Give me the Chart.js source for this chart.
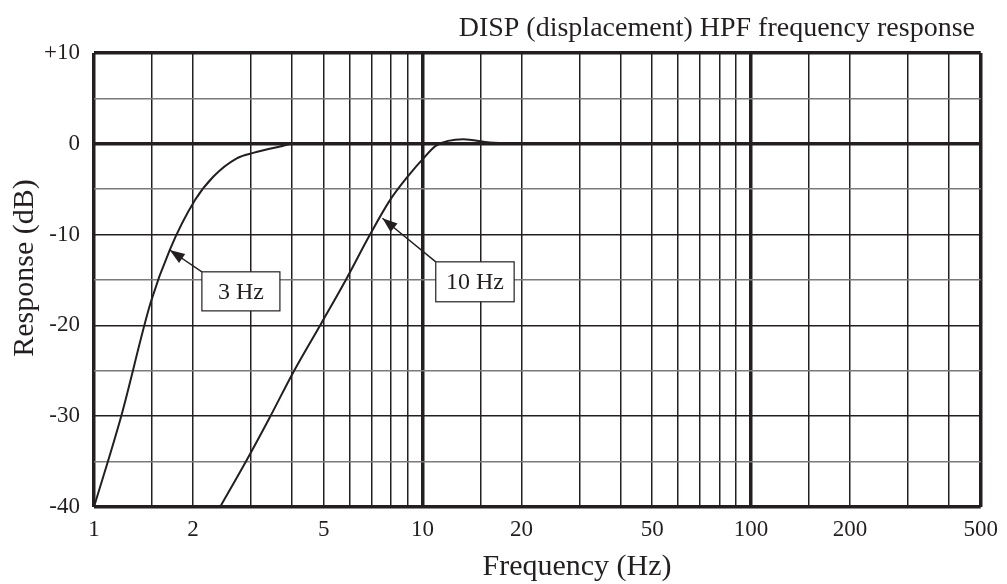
<!DOCTYPE html>
<html>
<head>
<meta charset="utf-8">
<script src="https://cdn.jsdelivr.net/npm/chart.js@4"></script>
<style>
  html, body { margin: 0; padding: 0; background: #fff; }
  #wrap { width: 1007px; height: 584px; position: relative; }
</style>
</head>
<body>
<div id="wrap"><canvas id="hpf"></canvas></div>
<script>
// DISP high-pass responses (Hz / dB)
const freq3Hz = [1, 1.21, 1.49, 1.70, 2.03, 2.31, 2.72, 3.05, 3.68, 4.04, 20];
const resp3Hz = [-40, -30, -17.4, -11.7, -6.2, -3.6, -1.6, -1.0, -0.3, 0, 0];

const freq10Hz = [2.42, 2.92, 3.42, 4.05, 4.93, 5.88, 6.92, 7.96, 9.06, 10.06, 11.0, 13.3, 16.0, 20.5];
const resp10Hz = [-40, -34.8, -30.2, -25.1, -19.7, -14.8, -10.0, -6.2, -3.5, -1.6, -0.2, 0.5, 0.15, 0];

// axis ticks
const freqGrid = [1, 1.5, 2, 3, 4, 5, 6, 7, 8, 9, 10, 15, 20, 30, 40, 50, 60, 70, 80, 90, 100, 150, 200, 300, 400, 500];
const freqLabels = [1, 2, 5, 10, 20, 50, 100, 200, 500];
const freqHeavy = [1, 10, 100, 500];
const dbHeavy = [10, 0, -40];

// callouts: label, arrow tip (Hz, dB), box corners (Hz, dB)
const calloutText = ['3 Hz', '10 Hz'];
const calloutTip = [[1.70, -11.7], [7.55, -8.2]];
const calloutBox = [[2.13, -14.1, 3.68, -18.4], [10.97, -13.0, 19.0, -17.4]];

const INK = '#231f20';
const SERIF = '"Liberation Serif", "Times New Roman", serif';

const toPoints = (xs, ys) => xs.map((x, i) => ({ x: x, y: ys[i] }));

const textPlugin = {
    id: 'hpfText',
    afterDatasetsDraw(chart) {
        const ctx = chart.ctx;
        const xs = chart.scales.x;
        const ys = chart.scales.y;
        ctx.save();

        // callouts
        calloutText.forEach((label, i) => {
            const tx = xs.getPixelForValue(calloutTip[i][0]);
            const ty = ys.getPixelForValue(calloutTip[i][1]);
            const bx0 = xs.getPixelForValue(calloutBox[i][0]);
            const by0 = ys.getPixelForValue(calloutBox[i][1]);
            const bx1 = xs.getPixelForValue(calloutBox[i][2]);
            const by1 = ys.getPixelForValue(calloutBox[i][3]);

            ctx.strokeStyle = INK;
            ctx.fillStyle = INK;
            ctx.lineWidth = 1.4;
            ctx.beginPath();
            ctx.moveTo(bx0, by0);
            ctx.lineTo(tx, ty);
            ctx.stroke();

            const ang = Math.atan2(ty - by0, tx - bx0);
            const len = 15, half = 5.5;
            ctx.beginPath();
            ctx.moveTo(tx, ty);
            ctx.lineTo(tx - len * Math.cos(ang) + half * Math.sin(ang), ty - len * Math.sin(ang) - half * Math.cos(ang));
            ctx.lineTo(tx - len * Math.cos(ang) - half * Math.sin(ang), ty - len * Math.sin(ang) + half * Math.cos(ang));
            ctx.closePath();
            ctx.fill();

            ctx.fillStyle = '#fff';
            ctx.fillRect(bx0, by0, bx1 - bx0, by1 - by0);
            ctx.lineWidth = 1.2;
            ctx.strokeRect(bx0, by0, bx1 - bx0, by1 - by0);
            ctx.fillStyle = INK;
            ctx.font = '24px ' + SERIF;
            ctx.textAlign = 'center';
            ctx.textBaseline = 'middle';
            ctx.fillText(label, (bx0 + bx1) / 2, (by0 + by1) / 2 + 1);
        });

        // titles
        ctx.fillStyle = INK;
        ctx.font = '28px ' + SERIF;
        ctx.textAlign = 'right';
        ctx.textBaseline = 'alphabetic';
        ctx.fillText('DISP (displacement) HPF frequency response', 975, 36);

        ctx.font = '30px ' + SERIF;
        ctx.textAlign = 'center';
        ctx.fillText('Frequency (Hz)', 577, 575);

        ctx.translate(25, 268);
        ctx.rotate(-Math.PI / 2);
        ctx.textBaseline = 'middle';
        ctx.fillText('Response (dB)', 0, 0);
        ctx.restore();
    }
};

new Chart(document.getElementById('hpf'), {
    type: 'line',
    data: {
        datasets: [
            { label: '3 Hz', data: toPoints(freq3Hz, resp3Hz) },
            { label: '10 Hz', data: toPoints(freq10Hz, resp10Hz) }
        ]
    },
    options: {
        responsive: true,
        maintainAspectRatio: false,
        animation: false,
        layout: { padding: { top: 53, right: 26, left: 0, bottom: 0 } },
        elements: {
            line: { borderColor: INK, borderWidth: 2, cubicInterpolationMode: 'monotone', fill: false },
            point: { radius: 0 }
        },
        plugins: {
            legend: { display: false },
            tooltip: { enabled: false }
        },
        scales: {
            x: {
                type: 'logarithmic',
                min: 1,
                max: 500,
                afterFit(scale) { scale.height = 77; },
                afterBuildTicks(scale) { scale.ticks = freqGrid.map(v => ({ value: v })); },
                border: { display: false },
                grid: {
                    drawTicks: false,
                    color: INK,
                    lineWidth: c => freqHeavy.includes(c.tick && c.tick.value) ? 3.5 : 1.5
                },
                ticks: {
                    autoSkip: false,
                    maxRotation: 0,
                    padding: 9,
                    color: INK,
                    font: { family: SERIF, size: 23 },
                    callback: v => freqLabels.includes(v) ? String(v) : ''
                }
            },
            y: {
                min: -40,
                max: 10,
                afterFit(scale) { scale.width = 94; },
                border: { display: false },
                grid: {
                    drawTicks: false,
                    color: c => (c.tick && c.tick.value % 10 === 0) ? INK : '#7a7a7a',
                    lineWidth: c => dbHeavy.includes(c.tick && c.tick.value) ? 3.5 : 1.5
                },
                ticks: {
                    stepSize: 5,
                    padding: 14,
                    color: INK,
                    font: { family: SERIF, size: 23 },
                    callback: v => v % 10 === 0 ? (v > 0 ? '+' + v : String(v)) : ''
                }
            }
        }
    },
    plugins: [textPlugin]
});
</script>
</body>
</html>
